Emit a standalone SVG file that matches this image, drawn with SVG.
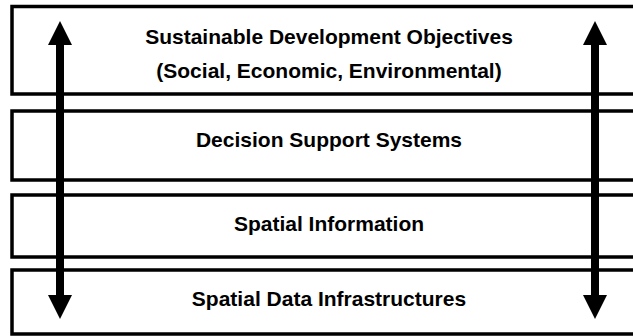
<svg xmlns="http://www.w3.org/2000/svg" width="633" height="336" viewBox="0 0 633 336">
<style>
.box{fill:#fff;stroke:#000;stroke-width:3.5}
.lbl{font-family:"Liberation Sans",Arial,sans-serif;font-weight:bold;font-size:21px;fill:#000;text-anchor:middle}
.arr{stroke:#000;stroke-width:8;fill:none}
</style>
<defs>
<marker id="head" viewBox="0 0 24 24" markerWidth="24" markerHeight="24" refX="1" refY="12" orient="auto-start-reverse" markerUnits="userSpaceOnUse">
<path d="M0,0 L24,12 L0,24 Z" fill="#000"/>
</marker>
</defs>
<rect width="633" height="336" fill="#fff"/>
<g id="sdo">
<rect class="box" x="12" y="6.5" width="634" height="87.5"/>
<text class="lbl" x="329" y="44">Sustainable Development Objectives</text>
<text class="lbl" x="329" y="77.5">(Social, Economic, Environmental)</text>
</g>
<g id="dss">
<rect class="box" x="12" y="111" width="634" height="69"/>
<text class="lbl" x="329" y="147">Decision Support Systems</text>
</g>
<g id="si">
<rect class="box" x="12" y="195" width="634" height="62"/>
<text class="lbl" x="329" y="231">Spatial Information</text>
</g>
<g id="sdi">
<rect class="box" x="12" y="270" width="634" height="64"/>
<text class="lbl" x="329" y="306">Spatial Data Infrastructures</text>
</g>
<g id="connectors">
<line class="arr" x1="60" y1="44" x2="60" y2="296" marker-start="url(#head)" marker-end="url(#head)"/>
<line class="arr" x1="595" y1="44" x2="595" y2="296" marker-start="url(#head)" marker-end="url(#head)"/>
</g>
</svg>
